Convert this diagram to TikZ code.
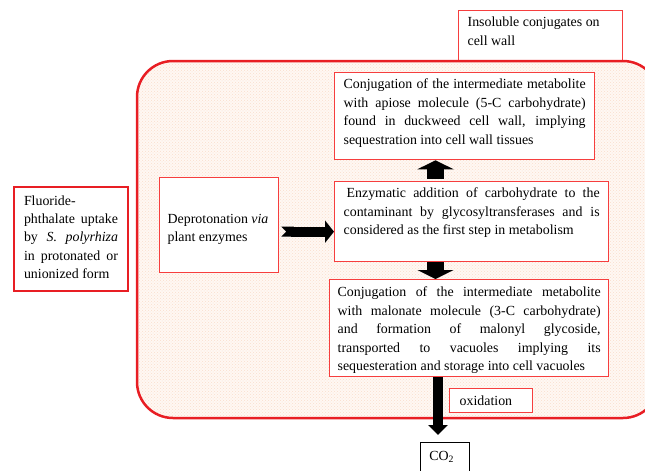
\documentclass[tikz,border=0pt]{standalone}
\usepackage{fontspec}
\setmainfont{Liberation Serif}
\usetikzlibrary{arrows.meta,calc,patterns}
\definecolor{bigred}{RGB}{232,30,36}
\definecolor{boxred}{RGB}{246,62,62}
\definecolor{cellfill}{RGB}{255,248,243}
\definecolor{celldot}{RGB}{250,222,205}
\newcommand\bxtext[4]{\parbox[c][#1][t]{#2}{\vspace*{#3}#4}}
\tikzset{
  bx/.style={draw=boxred, line width=1.3pt, fill=white, anchor=north west,
    inner ysep=0pt, font=\fontsize{13.9}{18.4}\selectfont},
  fat/.style={line width=#1, draw=black},
}
\begin{document}
\begin{tikzpicture}[x=1pt,y=-1pt]
\useasboundingbox (0,0) rectangle (645,471);

% insoluble conjugates box (behind the cell)
\node[bx, inner xsep=9pt, minimum width=164pt, minimum height=51pt] (ins) at (458,10)
  {\bxtext{51pt}{146pt}{6.5pt}{\raggedright Insoluble conjugates on\\cell wall}};

% the cell
\fill[cellfill, rounded corners=36pt] (137,61) rectangle (659,418);
\fill[pattern=crosshatch dots, pattern color=celldot, rounded corners=36pt] (137,61) rectangle (659,418);
\draw[bigred, line width=2.5pt, rounded corners=36pt] (137,61) rectangle (659,418);

% boxes
\node[bx, inner xsep=9pt, minimum width=260pt, minimum height=87pt] (api) at (334,72)
  {\bxtext{87pt}{242pt}{6.5pt}{Conjugation of the intermediate metabolite\linebreak
   with apiose molecule (5-C carbohydrate)\linebreak
   found in duckweed cell wall, implying\linebreak
   sequestration into cell wall tissues}};

\node[bx, inner xsep=9pt, minimum width=274pt, minimum height=80pt] (enz) at (334,181)
  {\bxtext{80pt}{256pt}{6.5pt}{\hspace*{3pt}Enzymatic addition of carbohydrate to the\linebreak
   contaminant by glycosyltransferases and is\linebreak
   considered as the first step in metabolism}};

\node[bx, inner xsep=8pt, minimum width=279pt, minimum height=97pt] (mal) at (329,279)
  {\bxtext{97pt}{263pt}{7.5pt}{Conjugation of the intermediate metabolite\linebreak
   with malonate molecule (3-C carbohydrate)\linebreak
   and formation of malonyl glycoside,\linebreak
   transported to vacuoles implying its\linebreak
   sequesteration and storage into cell vacuoles}};

\node[bx, inner xsep=8pt, minimum width=119pt, minimum height=95pt] (dep) at (159,177)
  {\bxtext{95pt}{103pt}{36.5pt}{\raggedright Deprotonation \textit{via}\\plant enzymes}};

\node[bx, draw=bigred, line width=2pt, inner xsep=10pt, minimum width=114pt, minimum height=104pt] (flu) at (13,186)
  {\bxtext{104pt}{94pt}{8.5pt}{Fluoride-\\
   phthalate uptake\linebreak
   by \textit{S. polyrhiza}\linebreak
   in protonated or\linebreak
   unionized form}};

\node[bx, inner xsep=10pt, minimum width=83pt, minimum height=24pt] (oxi) at (449,388)
  {\bxtext{24pt}{63pt}{7.5pt}{oxidation}};

\node[bx, draw=black, line width=0.8pt, inner xsep=9pt, minimum width=49pt, minimum height=40pt] (co) at (420,442)
  {\bxtext{40pt}{31pt}{8.5pt}{CO\textsubscript{2}}};

% block arrows
\coordinate (ha) at ($(dep.east)+(2,6.5)$);
\draw[fat=10pt, {Triangle Cap[reversed]}-{Triangle[width=22pt,length=9pt]}] (ha) -- (ha -| enz.west);

\coordinate (ux) at (435.5,0);
\draw[fat=17pt, -{Triangle[width=36pt,length=9pt]}, shorten <=2pt] (ux |- enz.north) -- (ux |- api.south);
\draw[fat=17pt, -{Triangle[width=36pt,length=9pt]}] (ux |- enz.south) -- (ux |- mal.north);

\coordinate (bx) at (438,0);
\draw[fat=10pt, -{Triangle[width=19pt,length=10pt]}, shorten >=7pt] (bx |- mal.south) -- (bx |- co.north);
\end{tikzpicture}
\end{document}
